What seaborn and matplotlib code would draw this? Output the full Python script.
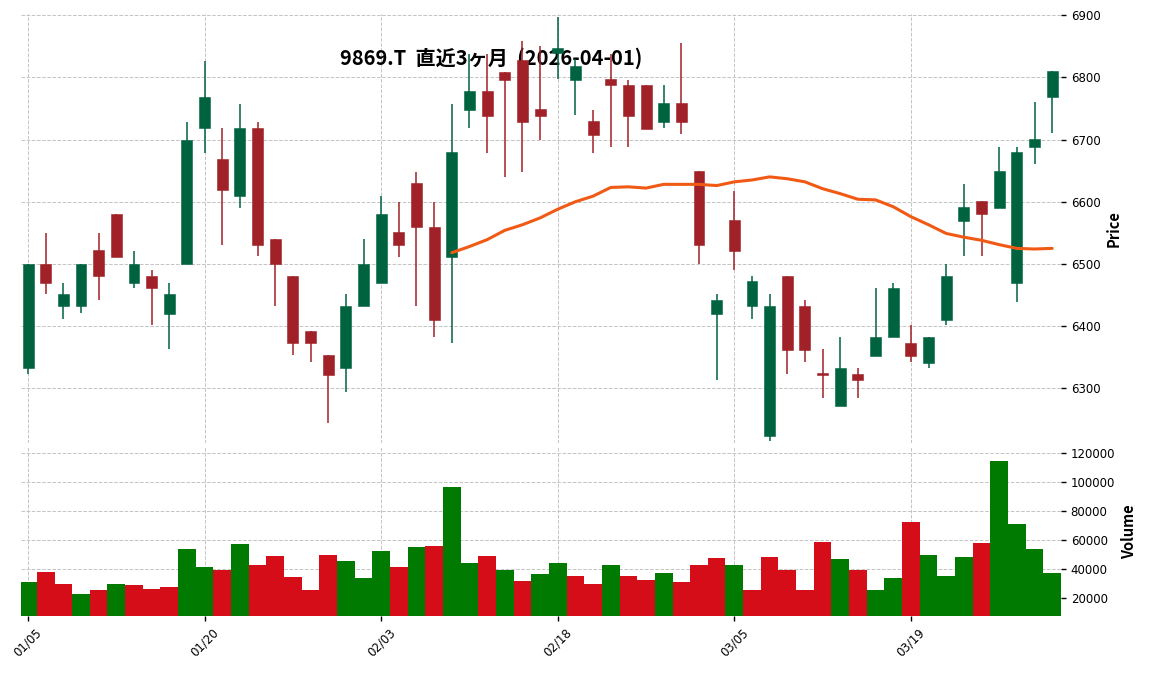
import numpy as np
import pandas as pd
import seaborn as sns
import matplotlib.pyplot as plt
from matplotlib.ticker import FuncFormatter

# 9869.T daily, last 3 months
dates = ["2026-01-05", "2026-01-06", "2026-01-07", "2026-01-08", "2026-01-09", "2026-01-13", "2026-01-14",
         "2026-01-15", "2026-01-16", "2026-01-19", "2026-01-20", "2026-01-21", "2026-01-22", "2026-01-23",
         "2026-01-26", "2026-01-27", "2026-01-28", "2026-01-29", "2026-01-30", "2026-02-02", "2026-02-03",
         "2026-02-04", "2026-02-05", "2026-02-06", "2026-02-09", "2026-02-10", "2026-02-12", "2026-02-13",
         "2026-02-16", "2026-02-17", "2026-02-18", "2026-02-19", "2026-02-20", "2026-02-24", "2026-02-25",
         "2026-02-26", "2026-02-27", "2026-03-02", "2026-03-03", "2026-03-04", "2026-03-05", "2026-03-06",
         "2026-03-09", "2026-03-10", "2026-03-11", "2026-03-12", "2026-03-13", "2026-03-16", "2026-03-17",
         "2026-03-18", "2026-03-19", "2026-03-20", "2026-03-23", "2026-03-24", "2026-03-25", "2026-03-26",
         "2026-03-27", "2026-03-30", "2026-03-31"]

opens = [6332, 6500, 6432, 6432, 6522, 6581, 6470, 6481, 6420, 6500,
         6718, 6669, 6609, 6718, 6540, 6481, 6392, 6354, 6332, 6432,
         6470, 6551, 6630, 6560, 6511, 6748, 6778, 6809, 6828, 6749,
         6840, 6796, 6730, 6797, 6788, 6788, 6728, 6759, 6649, 6420,
         6570, 6432, 6223, 6481, 6433, 6324, 6271, 6323, 6352, 6382,
         6373, 6341, 6410, 6569, 6601, 6590, 6469, 6688, 6769]
highs = [6500, 6550, 6470, 6500, 6550, 6581, 6521, 6490, 6470, 6729,
         6827, 6718, 6758, 6728, 6540, 6481, 6392, 6354, 6452, 6540,
         6609, 6600, 6648, 6600, 6758, 6837, 6837, 6809, 6858, 6850,
         6897, 6830, 6748, 6837, 6796, 6788, 6787, 6856, 6649, 6452,
         6618, 6480, 6452, 6481, 6442, 6363, 6383, 6333, 6461, 6470,
         6402, 6383, 6500, 6629, 6601, 6688, 6688, 6760, 6810]
lows = [6323, 6451, 6411, 6421, 6442, 6511, 6461, 6402, 6363, 6500,
        6679, 6531, 6590, 6512, 6432, 6353, 6342, 6244, 6294, 6432,
        6470, 6511, 6432, 6383, 6373, 6718, 6679, 6640, 6648, 6699,
        6797, 6739, 6679, 6688, 6688, 6717, 6718, 6709, 6500, 6313,
        6491, 6411, 6215, 6323, 6342, 6284, 6271, 6284, 6352, 6382,
        6342, 6332, 6402, 6512, 6512, 6590, 6439, 6660, 6710]
closes = [6500, 6470, 6452, 6500, 6480, 6511, 6500, 6461, 6452, 6700,
          6768, 6619, 6718, 6530, 6500, 6372, 6372, 6322, 6432, 6500,
          6581, 6530, 6559, 6410, 6680, 6778, 6738, 6796, 6728, 6738,
          6848, 6818, 6708, 6787, 6738, 6717, 6759, 6728, 6530, 6442,
          6520, 6472, 6433, 6362, 6362, 6322, 6333, 6313, 6383, 6461,
          6352, 6383, 6481, 6591, 6580, 6649, 6680, 6701, 6810]
volumes = [31300, 38200, 29900, 23000, 25700, 29900, 29200, 26400, 27800, 54000,
           41600, 39500, 57500, 43000, 49200, 34700, 25700, 49900, 45700, 34000,
           52600, 41600, 55400, 56100, 96800, 44400, 49200, 39500, 32000, 36800,
           44400, 35400, 29900, 43000, 35400, 32600, 37500, 31300, 43000, 47800,
           43000, 25700, 48500, 39500, 25700, 58900, 47100, 39500, 25700, 34000,
           72600, 49900, 35400, 48500, 58200, 114700, 71300, 54000, 37500]
# 25-day moving average as drawn (starts at the 25th bar)
ma25 = [np.nan] * 24 + [6518, 6528, 6539, 6554, 6563, 6574, 6588, 6600, 6609, 6623,
                        6624, 6622, 6628, 6628, 6628, 6626, 6632, 6635, 6640, 6637,
                        6632, 6621, 6613, 6604, 6603, 6592, 6576, 6563, 6549, 6543,
                        6538, 6531, 6525, 6524, 6525]

title = "9869.T  直近3ヶ月  (2026-04-01)"

sns.set_style("white", {'text.color': 'black', 'axes.labelcolor': 'black',
                        'xtick.color': 'black', 'ytick.color': 'black'})
plt.rcParams['font.family'] = ['DejaVu Sans']
jp = ['Noto Sans CJK JP', 'DejaVu Sans']

o = np.array(opens)
h = np.array(highs)
l = np.array(lows)
c = np.array(closes)
x = np.arange(len(dates))

candle_col = np.where(c >= o, '#006340', '#a02128')
vol_dir = ['up'] + ['up' if c[i] > c[i - 1] else 'down' for i in range(1, len(c))]
df = pd.DataFrame({'idx': x, 'volume': volumes, 'dir': vol_dir})

fig = plt.figure(figsize=(11.52, 6.73), dpi=100)
ax1 = fig.add_axes([0.0182, 0.3418, 0.9028, 0.6374])
ax2 = fig.add_axes([0.0182, 0.0847, 0.9028, 0.2511])

# candles
ax1.vlines(x, l, h, colors=candle_col, linewidth=1.1, zorder=3)
body = np.maximum(np.abs(c - o), 1.5)
ax1.bar(x, body, bottom=np.minimum(o, c), width=0.62, color=candle_col,
        edgecolor=candle_col, linewidth=0.4, zorder=4)
sns.lineplot(x=x, y=ma25, ax=ax1, color='#f05a14', linewidth=2.2, zorder=5)
ax1.text(0.426, 0.914, title, transform=fig.transFigure, ha='center', va='center',
         fontsize=14.5, fontweight='bold', family=jp, color='black', zorder=1)

# volume
sns.barplot(data=df, x='idx', y='volume', hue='dir', palette={'up': '#007a00', 'down': '#d50d18'},
            width=1.0, saturation=1, dodge=False, legend=False, native_scale=True,
            linewidth=0, ax=ax2)

ticks = [0, 10, 20, 30, 40, 50]
for ax in (ax1, ax2):
    ax.set_xlim(-0.4, 58.5)
    ax.set_xticks(ticks)
    ax.grid(True, linestyle='--', color='#c4c4c4', linewidth=0.7)
    ax.set_axisbelow(True)
    for s in ax.spines.values():
        s.set_visible(False)
    ax.yaxis.tick_right()
    ax.yaxis.set_label_position('right')
    ax.tick_params(axis='y', right=True, left=False, length=3.5, width=1, color='black',
                   labelcolor='black', labelsize=8.5)
    ax.set_xlabel('')

ax1.set_ylim(6212, 6902)
ax1.set_yticks(range(6300, 6901, 100))
ax1.tick_params(axis='x', bottom=False, labelbottom=False)
ax1.set_ylabel('Price', family=jp, fontsize=10.5, fontweight='bold', color='black')

ax2.set_ylim(7800, 124300)
ax2.set_yticks(range(20000, 120001, 20000))
ax2.yaxis.set_major_formatter(FuncFormatter(lambda v, p: f"{int(v)}"))
ax2.set_xticklabels([dates[i][5:].replace('-', '/') for i in ticks], rotation=45)
ax2.tick_params(axis='x', bottom=True, length=3.5, width=1, color='black',
                labelcolor='black', labelsize=8.5)
ax2.set_ylabel('Volume', family=jp, fontsize=10.5, fontweight='bold', color='black')

fig.savefig('out.png', dpi=100)
